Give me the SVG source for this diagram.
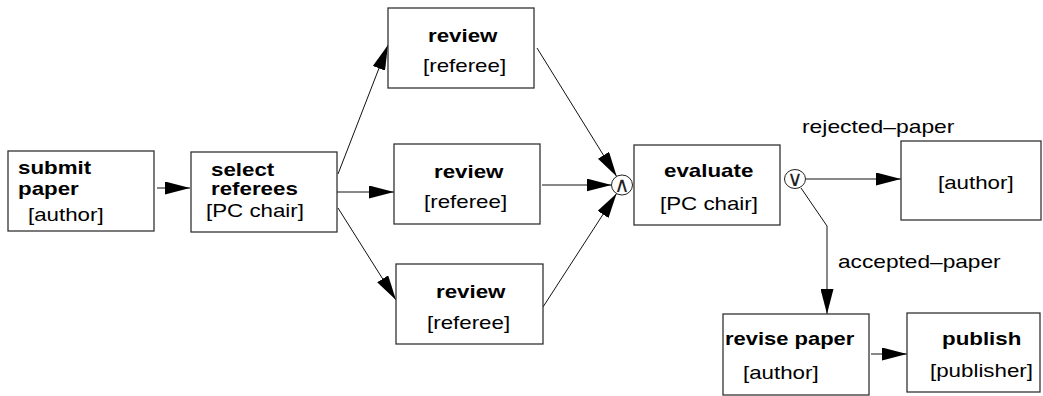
<svg xmlns="http://www.w3.org/2000/svg" width="1043" height="396" viewBox="0 0 1043 396">
  <defs>
    <marker id="arrow" markerUnits="userSpaceOnUse" markerWidth="26" markerHeight="13" refX="25" refY="6.5" orient="auto">
      <path d="M0,0 L25,6.5 L0,13 z" fill="#000"/>
    </marker>
    <style>
      .box { fill: #fff; stroke: #333; stroke-width: 1.3; }
      .gate { fill: #fff; stroke: #222; stroke-width: 1; }
      .edge { fill: none; stroke: #111; stroke-width: 1; marker-end: url(#arrow); }
      text { font-family: "Liberation Sans", Arial, sans-serif; font-size: 18px; fill: #000; }
      .b { font-weight: bold; }
      .sym { font-family: "DejaVu Sans", sans-serif; font-size: 21px; fill: #222; text-anchor: middle; }
    </style>
  </defs>

  <rect width="1043" height="396" fill="#fff"/>

  <!-- connectors -->
  <g id="connectors">
    <line class="edge" x1="157" y1="188" x2="190" y2="188"/>
    <line class="edge" x1="338" y1="174" x2="388" y2="45"/>
    <line class="edge" x1="337" y1="192" x2="394" y2="192"/>
    <line class="edge" x1="338" y1="208" x2="396" y2="300"/>
    <line class="edge" x1="537" y1="48" x2="616.7" y2="176.5"/>
    <line class="edge" x1="542" y1="185" x2="611.5" y2="185"/>
    <line class="edge" x1="543" y1="307" x2="616.6" y2="193.4"/>
    <line class="edge" x1="806" y1="179" x2="901" y2="179"/>
    <polyline class="edge" points="801,188 827,226 827,314"/>
    <line class="edge" x1="871" y1="354" x2="907" y2="354"/>
  </g>

  <!-- gates -->
  <g id="and-gate">
    <ellipse class="gate" cx="622" cy="185" rx="10.5" ry="10"/>
    <text class="sym" x="622" y="192">∧</text>
  </g>
  <g id="or-gate">
    <ellipse class="gate" cx="795" cy="179" rx="10.5" ry="9.5"/>
    <text class="sym" x="795" y="186">∨</text>
  </g>

  <!-- activities -->
  <g id="submit-paper">
    <rect class="box" x="8" y="151" width="146" height="80"/>
    <text class="b" transform="translate(18,174) scale(1.24,1)">submit</text>
    <text class="b" transform="translate(18,195) scale(1.24,1)">paper</text>
    <text transform="translate(28,221) scale(1.24,1)">[author]</text>
  </g>

  <g id="select-referees">
    <rect class="box" x="191" y="152" width="146" height="80"/>
    <text class="b" transform="translate(211,176) scale(1.24,1)">select</text>
    <text class="b" transform="translate(211,195) scale(1.24,1)">referees</text>
    <text transform="translate(206,217) scale(1.24,1)">[PC chair]</text>
  </g>

  <g id="review-1">
    <rect class="box" x="388" y="8" width="146" height="80"/>
    <text class="b" transform="translate(428,42) scale(1.24,1)">review</text>
    <text transform="translate(423,72) scale(1.24,1)">[referee]</text>
  </g>

  <g id="review-2">
    <rect class="box" x="394" y="144" width="146" height="80"/>
    <text class="b" transform="translate(434,178) scale(1.24,1)">review</text>
    <text transform="translate(424,208) scale(1.24,1)">[referee]</text>
  </g>

  <g id="review-3">
    <rect class="box" x="396" y="264" width="147" height="80"/>
    <text class="b" transform="translate(436,298) scale(1.24,1)">review</text>
    <text transform="translate(427,329) scale(1.24,1)">[referee]</text>
  </g>

  <g id="evaluate">
    <rect class="box" x="634" y="145" width="146" height="80"/>
    <text class="b" transform="translate(664,177) scale(1.24,1)">evaluate</text>
    <text transform="translate(660,210) scale(1.24,1)">[PC chair]</text>
  </g>

  <g id="rejected">
    <rect class="box" x="901" y="141" width="140" height="79"/>
    <text transform="translate(938,189) scale(1.24,1)">[author]</text>
  </g>

  <g id="revise-paper">
    <rect class="box" x="723" y="314" width="146" height="81"/>
    <text class="b" transform="translate(725,345) scale(1.22,1)">revise paper</text>
    <text transform="translate(743,379) scale(1.24,1)">[author]</text>
  </g>

  <g id="publish">
    <rect class="box" x="907" y="313" width="133" height="79"/>
    <text class="b" transform="translate(942,345) scale(1.24,1)">publish</text>
    <text transform="translate(930,377) scale(1.24,1)">[publisher]</text>
  </g>

  <!-- flow labels -->
  <g id="labels">
    <text transform="translate(802,133) scale(1.27,1)">rejected–paper</text>
    <text transform="translate(838,268) scale(1.26,1)">accepted–paper</text>
  </g>
</svg>
